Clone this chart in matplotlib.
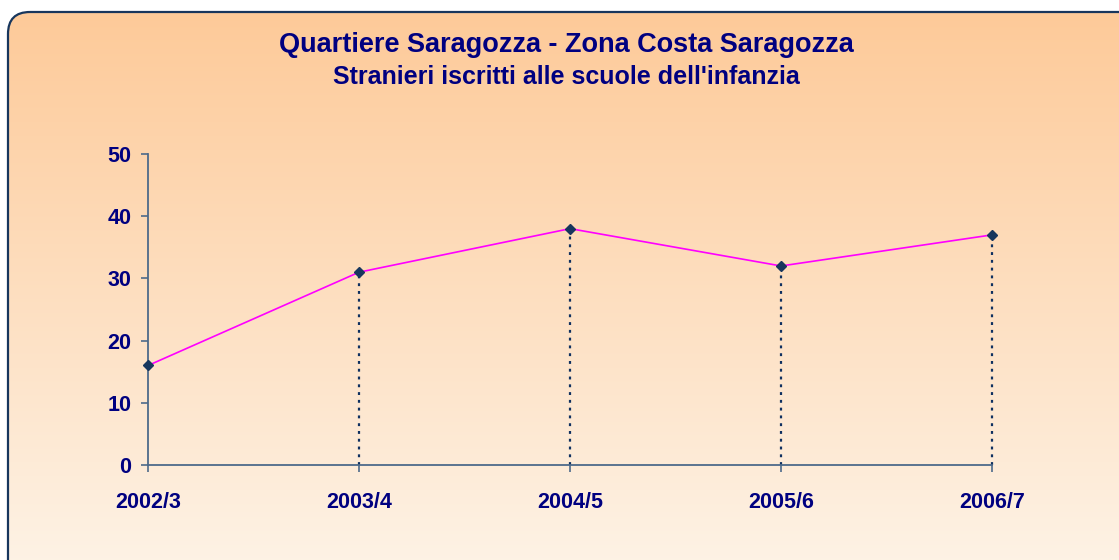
import numpy as np
import matplotlib
matplotlib.use("Agg")
import matplotlib.pyplot as plt
from matplotlib.patches import FancyBboxPatch

# dati
anni = ['2002/3', '2003/4', '2004/5', '2005/6', '2006/7']
stranieri = [16, 31, 38, 32, 37]

navy = '#000080'
fig = plt.figure(figsize=(11.19, 5.6), dpi=100)
fig.patch.set_facecolor('white')

# sfondo sfumato con bordo arrotondato
bg = fig.add_axes([0, 0, 1, 1], zorder=0)
bg.set_xlim(0, 1119)
bg.set_ylim(560, 0)
bg.axis('off')
grad = np.linspace(0, 1, 256).reshape(-1, 1)
top = np.array([253, 202, 153]) / 255
bot = np.array([254, 245, 234]) / 255
img = top + (bot - top) * grad[..., None]
box = FancyBboxPatch((8, 12), 1140, 580, boxstyle='round,pad=0,rounding_size=22',
                     facecolor='none', edgecolor='#17365d', linewidth=1.6, zorder=3)
bg.add_patch(box)
im = bg.imshow(img, extent=[8, 1150, 600, 12], aspect='auto', zorder=1)
im.set_clip_path(box)

fig.text(0.506, 0.920, 'Quartiere Saragozza - Zona Costa Saragozza', ha='center', va='center',
         fontsize=19.5, fontweight='bold', color=navy, family='Liberation Sans')
fig.text(0.506, 0.862, "Stranieri iscritti alle scuole dell'infanzia", ha='center', va='center',
         fontsize=18, fontweight='bold', color=navy, family='Liberation Sans')

ax = fig.add_axes([0.1323, 0.1696, 0.7543, 0.5554], zorder=2)
ax.patch.set_alpha(0)
x = np.arange(len(anni))
ax.vlines(x[1:], 0, stranieri[1:], colors='#0f3060', linestyles=(0, (1.3, 2.2)), linewidth=1.6,
          clip_on=False)
ax.plot(x, stranieri, color='#ff00ff', linewidth=1.2, marker='D', markersize=5,
        markerfacecolor='#17365d', markeredgecolor='#17365d', clip_on=False, zorder=3)
ax.set_xlim(0, len(anni) - 1)
ax.set_ylim(0, 50)
ax.set_yticks(range(0, 51, 10))
ax.set_xticks(x)
ax.set_xticklabels(anni)
for s in ['top', 'right']:
    ax.spines[s].set_visible(False)
for s in ['left', 'bottom']:
    ax.spines[s].set_color('#4d6a8a')
    ax.spines[s].set_linewidth(1.3)
ax.tick_params(axis='both', colors='#4d6a8a', labelcolor=navy, length=5, width=1.2)
ax.tick_params(axis='x', pad=14.5)
ax.tick_params(axis='y', pad=7)
for lab in ax.get_xticklabels() + ax.get_yticklabels():
    lab.set_fontsize(15.5)
    lab.set_fontweight('bold')
    lab.set_family('Liberation Sans')

fig.savefig('out.png', dpi=100)
